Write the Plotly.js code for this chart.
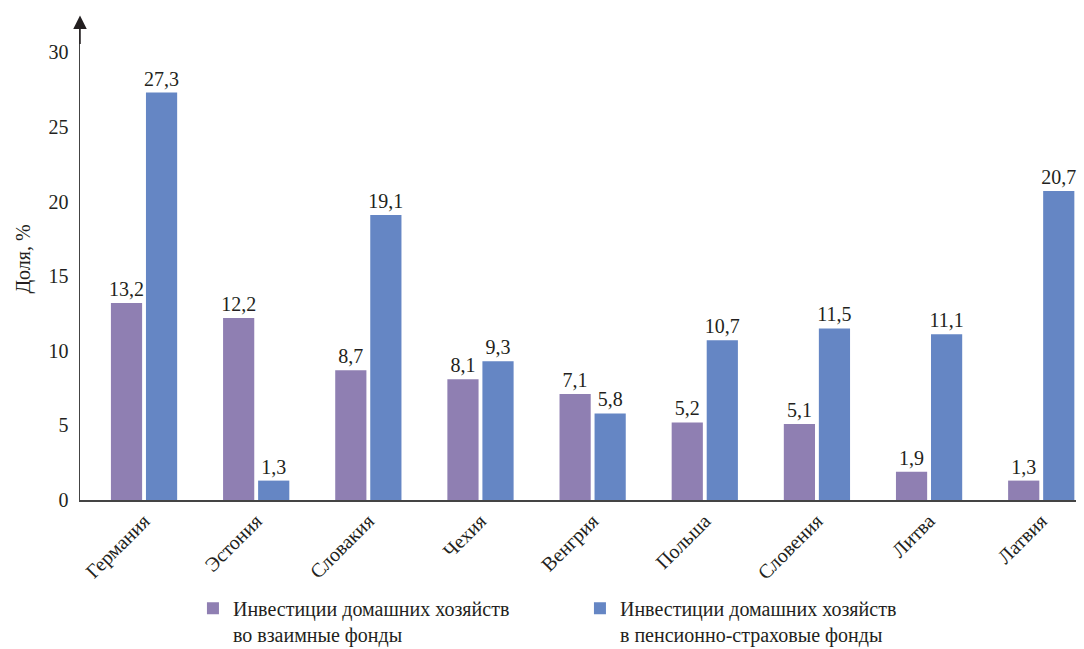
<!DOCTYPE html>
<html><head><meta charset="utf-8">
<script src="https://cdn.plot.ly/plotly-3.0.1.min.js"></script>
<style>html,body{margin:0;padding:0;background:#fff}#chart{width:1084px;height:649px}</style>
</head><body><div id="chart"></div>
<script>
const categories = ["Германия","Эстония","Словакия","Чехия","Венгрия","Польша","Словения","Литва","Латвия"];
const mutualFunds = [13.2,12.2,8.7,8.1,7.1,5.2,5.1,1.9,1.3];
const pensionFunds = [27.3,1.3,19.1,9.3,5.8,10.7,11.5,11.1,20.7];
const seriesNames = ["Инвестиции домашних хозяйств<br>во взаимные фонды","Инвестиции домашних хозяйств<br>в пенсионно-страховые фонды"];

const font = {family:"Liberation Serif", size:20, color:"#231f20"};
const traces = [
  {type:"bar", x:categories, y:mutualFunds, name:seriesNames[0], marker:{color:"#8f7fb2"},
   texttemplate:"%{y:.1f}", textposition:"outside", constraintext:"none", cliponaxis:false, textfont:font},
  {type:"bar", x:categories, y:pensionFunds, name:seriesNames[1], marker:{color:"#6586c4"},
   texttemplate:"%{y:.1f}", textposition:"outside", constraintext:"none", cliponaxis:false, textfont:font}
];
const layout = {
  width:1084, height:649,
  margin:{l:80, r:8, t:18, b:149, autoexpand:false},
  font:font, separators:", ",
  paper_bgcolor:"#fff", plot_bgcolor:"#fff",
  barmode:"group", bargap:0.375, bargroupgap:0.11,
  showlegend:true,
  legend:{orientation:"h", xref:"container", yref:"container", x:0.178, xanchor:"left", y:0.093, yanchor:"top", valign:"top",
          entrywidth:342, entrywidthmode:"pixels", font:font, traceorder:"normal", itemclick:false},
  xaxis:{type:"category", range:[-0.571, 8.31], showline:true, linecolor:"#444", linewidth:1.5, automargin:false,
         ticks:"", tickangle:-45, showgrid:false, zeroline:false, tickfont:font},
  yaxis:{range:[0, 32.3], tickvals:[0,5,10,15,20,25,30], showline:true, linecolor:"#444", linewidth:1.5, automargin:false,
         ticks:"", showgrid:false, zeroline:false, tickfont:font, ticklabelstandoff:6,
         title:{text:"Доля, %", font:font, standoff:12}},
  annotations:[{xref:"paper", yref:"paper", x:0, y:1.005, ax:0, ay:30, text:"", showarrow:true,
                arrowhead:2, arrowsize:1.8, arrowwidth:1.5, arrowcolor:"#231f20"}]
};
Plotly.newPlot("chart", traces, layout, {displayModeBar:false, staticPlot:true});
</script></body></html>
